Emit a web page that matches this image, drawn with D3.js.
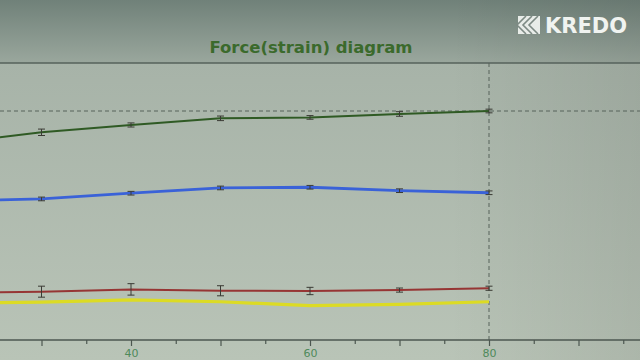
<!DOCTYPE html>
<html><head><meta charset="utf-8">
<script src="https://cdn.jsdelivr.net/npm/d3@7/dist/d3.min.js"></script>
<style>html,body{margin:0;padding:0;background:#9aa79c;}svg{display:block;}</style>
</head><body>
<script>
// ---- data ----
const strain = [20, 30, 40, 50, 60, 70, 80];
const greenForce  = [86.0, 90.7, 93.9, 96.8, 97.2, 98.7, 100.0];
const blueForce   = [60.7, 61.6, 64.1, 66.4, 66.7, 65.2, 64.3];
const redForce    = [20.6, 21.1, 22.1, 21.5, 21.4, 21.8, 22.6];
const yellowForce = [16.2, 16.5, 17.5, 16.7, 15.0, 15.6, 16.7];
const greenErr  = [1.4, 1.4, 0.9, 1.0, 0.8, 1.0, 0.8];
const blueErr   = [0.8, 0.8, 0.8, 0.8, 0.8, 0.8, 0.8];
const redErr    = [2.4, 2.4, 2.5, 2.2, 1.6, 0.9, 0.9];
const xTicks = [25, 30, 35, 40, 45, 50, 55, 60, 65, 70, 75, 80, 85, 90, 95];
const xLabels = [40, 60, 80];
const title = "Force(strain) diagram";

const W = 640, H = 360;
const svg = d3.select("body").append("svg").attr("width", W).attr("height", H);
const defs = svg.append("defs");

const gTop = defs.append("linearGradient").attr("id","gTop").attr("x1",0).attr("y1",0).attr("x2",0).attr("y2",1);
gTop.append("stop").attr("offset","0%").attr("stop-color","#708179");
gTop.append("stop").attr("offset","100%").attr("stop-color","#9aa79d");
const gPlot = defs.append("linearGradient").attr("id","gPlot").attr("x1",0).attr("y1",0).attr("x2",0).attr("y2",1);
gPlot.append("stop").attr("offset","0%").attr("stop-color","#a7b3a8");
gPlot.append("stop").attr("offset","100%").attr("stop-color","#b9c4b7");
const gSide = defs.append("linearGradient").attr("id","gSide").attr("x1",0).attr("y1",0).attr("x2",1).attr("y2",0);
gSide.append("stop").attr("offset","0%").attr("stop-color","#000").attr("stop-opacity",0.0);
gSide.append("stop").attr("offset","70%").attr("stop-color","#000").attr("stop-opacity",0.0);
gSide.append("stop").attr("offset","100%").attr("stop-color","#000").attr("stop-opacity",0.07);

svg.append("rect").attr("width",W).attr("height",63).attr("fill","url(#gTop)");
svg.append("rect").attr("y",63).attr("width",W).attr("height",H-63).attr("fill","url(#gPlot)");
svg.append("rect").attr("width",W).attr("height",H).attr("fill","url(#gSide)");

// scales
const x = d3.scaleLinear().domain([40, 80]).range([131, 489]);
const y = d3.scaleLinear().domain([0, 100]).range([340, 111]);

// title
svg.append("text").attr("x", 311).attr("y", 53).attr("text-anchor","middle")
  .attr("font-family","DejaVu Sans, Verdana, sans-serif").attr("font-weight","bold")
  .attr("font-size", 16.5).attr("fill","#3b6a2c").text(title);

// top frame line
svg.append("line").attr("x1",0).attr("x2",W).attr("y1",63).attr("y2",63)
  .attr("stroke","#56625b").attr("stroke-width",1.5);

// reference dashed lines at last point
const lastX = strain[strain.length-1], lastY = greenForce[greenForce.length-1];
svg.append("line").attr("x1",0).attr("x2",W).attr("y1",y(lastY)).attr("y2",y(lastY))
  .attr("stroke","#56625a").attr("stroke-width",1).attr("stroke-dasharray","4,3");
svg.append("line").attr("x1",x(lastX)).attr("x2",x(lastX)).attr("y1",63).attr("y2",340)
  .attr("stroke","#56625a").attr("stroke-width",1).attr("stroke-dasharray","4,3");

// x axis
const axis = d3.axisBottom(x).tickValues(xTicks).tickSize(5).tickFormat(() => "");
const ax = svg.append("g").attr("transform","translate(0,340)").call(axis);
ax.select(".domain").remove();
ax.append("line").attr("x1",0).attr("x2",W).attr("y1",0).attr("y2",0)
  .attr("stroke","#4c5750").attr("stroke-width",1.5);
ax.selectAll(".tick line").attr("stroke","#4c5750").attr("stroke-width",1.2)
  .attr("y2", d => d % 10 === 0 ? 6 : 4);
const labAxis = d3.axisBottom(x).tickValues(xLabels).tickSize(0).tickPadding(9);
const lab = svg.append("g").attr("transform","translate(0,340)").call(labAxis);
lab.select(".domain").remove();
lab.selectAll("text").attr("font-family","DejaVu Sans, sans-serif").attr("font-size",11)
  .attr("fill","#4f8a5b");

// series
const series = [
  {vals: greenForce, err: greenErr, color: "#2f5a24", w: 2},
  {vals: blueForce, err: blueErr, color: "#3a62d8", w: 2.8},
  {vals: redForce, err: redErr, color: "#963534", w: 2},
  {vals: yellowForce, err: null, color: "#dcdb24", w: 3.2}
];
const line = d3.line().x(d => x(d[0])).y(d => y(d[1]));
series.forEach(s => {
  const pts = strain.map((v,i) => [v, s.vals[i], s.err ? s.err[i] : 0]);
  svg.append("path").datum(pts).attr("d", line).attr("fill","none")
    .attr("stroke", s.color).attr("stroke-width", s.w).attr("stroke-linejoin","round");
  if (s.err) {
    const eb = svg.append("g").selectAll("g").data(pts.slice(1)).join("g");
    eb.append("line").attr("x1",d=>x(d[0])).attr("x2",d=>x(d[0]))
      .attr("y1",d=>y(d[1]-d[2])).attr("y2",d=>y(d[1]+d[2]))
      .attr("stroke","#3a3a34").attr("stroke-width",1);
    eb.append("line").attr("x1",d=>x(d[0])-3.5).attr("x2",d=>x(d[0])+3.5)
      .attr("y1",d=>y(d[1]-d[2])).attr("y2",d=>y(d[1]-d[2]))
      .attr("stroke","#3a3a34").attr("stroke-width",1);
    eb.append("line").attr("x1",d=>x(d[0])-3.5).attr("x2",d=>x(d[0])+3.5)
      .attr("y1",d=>y(d[1]+d[2])).attr("y2",d=>y(d[1]+d[2]))
      .attr("stroke","#3a3a34").attr("stroke-width",1);
  }
});

// logo
const logo = svg.append("g");
logo.append("rect").attr("x",518).attr("y",16).attr("width",22).attr("height",18).attr("fill","#e8ece8");
[0, 6, 12].forEach(o => {
  logo.append("polyline").attr("points", `${530+o-4},16 ${521+o-4},25 ${530+o-4},34`)
    .attr("fill","none").attr("stroke","#7d8a84").attr("stroke-width",1.6);
});
logo.append("text").attr("x",545).attr("y",33).attr("font-family","DejaVu Sans, sans-serif")
  .attr("font-weight","bold").attr("font-size",21).attr("fill","#f0f3f0").text("KREDO");
</script>
</body></html>
